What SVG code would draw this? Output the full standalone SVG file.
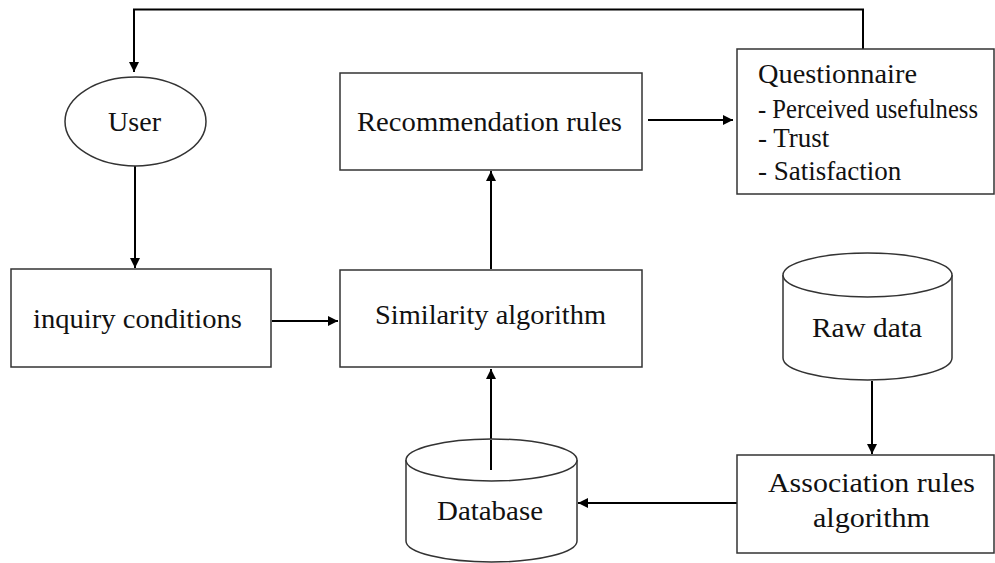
<svg xmlns="http://www.w3.org/2000/svg" width="995" height="563" viewBox="0 0 995 563">
<style>
.box{fill:#fff;stroke:#333;stroke-width:1.5}
.t{font-family:"Liberation Serif","Times New Roman",serif;fill:#111;font-size:27px}
.c{stroke:#000;stroke-width:2;fill:none}
</style>
<defs>
<marker id="ah" viewBox="0 0 10 10" refX="10" refY="5" markerWidth="10" markerHeight="10" markerUnits="userSpaceOnUse" orient="auto">
<path d="M0,0 L10,5 L0,10 z" fill="#000"/>
</marker>
</defs>
<rect width="995" height="563" fill="#fff"/>
<g id="connectors">
<polyline class="c" points="863,49 863,9.5 134,9.5 134,72" marker-end="url(#ah)"/>
<line class="c" x1="135" y1="166" x2="135" y2="268" marker-end="url(#ah)"/>
<line class="c" x1="272" y1="321" x2="338" y2="321" marker-end="url(#ah)"/>
<line class="c" x1="491" y1="269" x2="491" y2="171" marker-end="url(#ah)"/>
<line class="c" x1="648" y1="120" x2="733" y2="120" marker-end="url(#ah)"/>
<line class="c" x1="491" y1="470" x2="491" y2="369" marker-end="url(#ah)"/>
<line class="c" x1="872" y1="381" x2="872" y2="454" marker-end="url(#ah)"/>
<line class="c" x1="737" y1="503" x2="578" y2="503" marker-end="url(#ah)"/>
</g>
<g id="user">
<ellipse class="box" cx="135.5" cy="121.5" rx="70.5" ry="44.5"/>
<text class="t" x="134.5" y="131" text-anchor="middle" font-size="29" textLength="53" lengthAdjust="spacingAndGlyphs">User</text>
</g>
<g id="recommendation">
<rect class="box" x="340" y="73" width="302" height="97"/>
<text class="t" x="357" y="131" textLength="265" lengthAdjust="spacingAndGlyphs">Recommendation rules</text>
</g>
<g id="questionnaire">
<rect class="box" x="737" y="49" width="257" height="145"/>
<text class="t" x="758" y="83" font-size="26" textLength="159" lengthAdjust="spacingAndGlyphs">Questionnaire</text>
<text class="t" x="758" y="118" font-size="21" textLength="220" lengthAdjust="spacingAndGlyphs">- Perceived  usefulness</text>
<text class="t" x="758" y="147" font-size="21">- Trust</text>
<text class="t" x="758" y="180" font-size="21">- Satisfaction</text>
</g>
<g id="inquiry">
<rect class="box" x="11" y="269" width="260" height="98"/>
<text class="t" x="33" y="328" textLength="209" lengthAdjust="spacingAndGlyphs">inquiry  conditions</text>
</g>
<g id="similarity">
<rect class="box" x="340" y="270" width="302" height="97"/>
<text class="t" x="375" y="324" textLength="231" lengthAdjust="spacingAndGlyphs">Similarity  algorithm</text>
</g>
<g id="rawdata">
<path class="box" d="M783,275 L783,358 A84.5,22 0 0 0 952,358 L952,275"/>
<ellipse class="box" cx="867.5" cy="275" rx="84.5" ry="22"/>
<text class="t" x="867" y="337" text-anchor="middle" textLength="110" lengthAdjust="spacingAndGlyphs">Raw data</text>
</g>
<g id="association">
<rect class="box" x="737" y="455" width="257" height="98"/>
<text class="t" x="871.5" y="492" text-anchor="middle" textLength="207" lengthAdjust="spacingAndGlyphs">Association rules</text>
<text class="t" x="871.5" y="527" text-anchor="middle" textLength="117" lengthAdjust="spacingAndGlyphs">algorithm</text>
</g>
<g id="database">
<path class="box" d="M406,460 L406,541 A85.5,21 0 0 0 577,541 L577,460"/>
<ellipse class="box" cx="491.5" cy="460" rx="85.5" ry="21"/>
<text class="t" x="490" y="520" text-anchor="middle" textLength="106" lengthAdjust="spacingAndGlyphs">Database</text>
</g>
<line class="c" x1="491" y1="470" x2="491" y2="440"/>
</svg>
